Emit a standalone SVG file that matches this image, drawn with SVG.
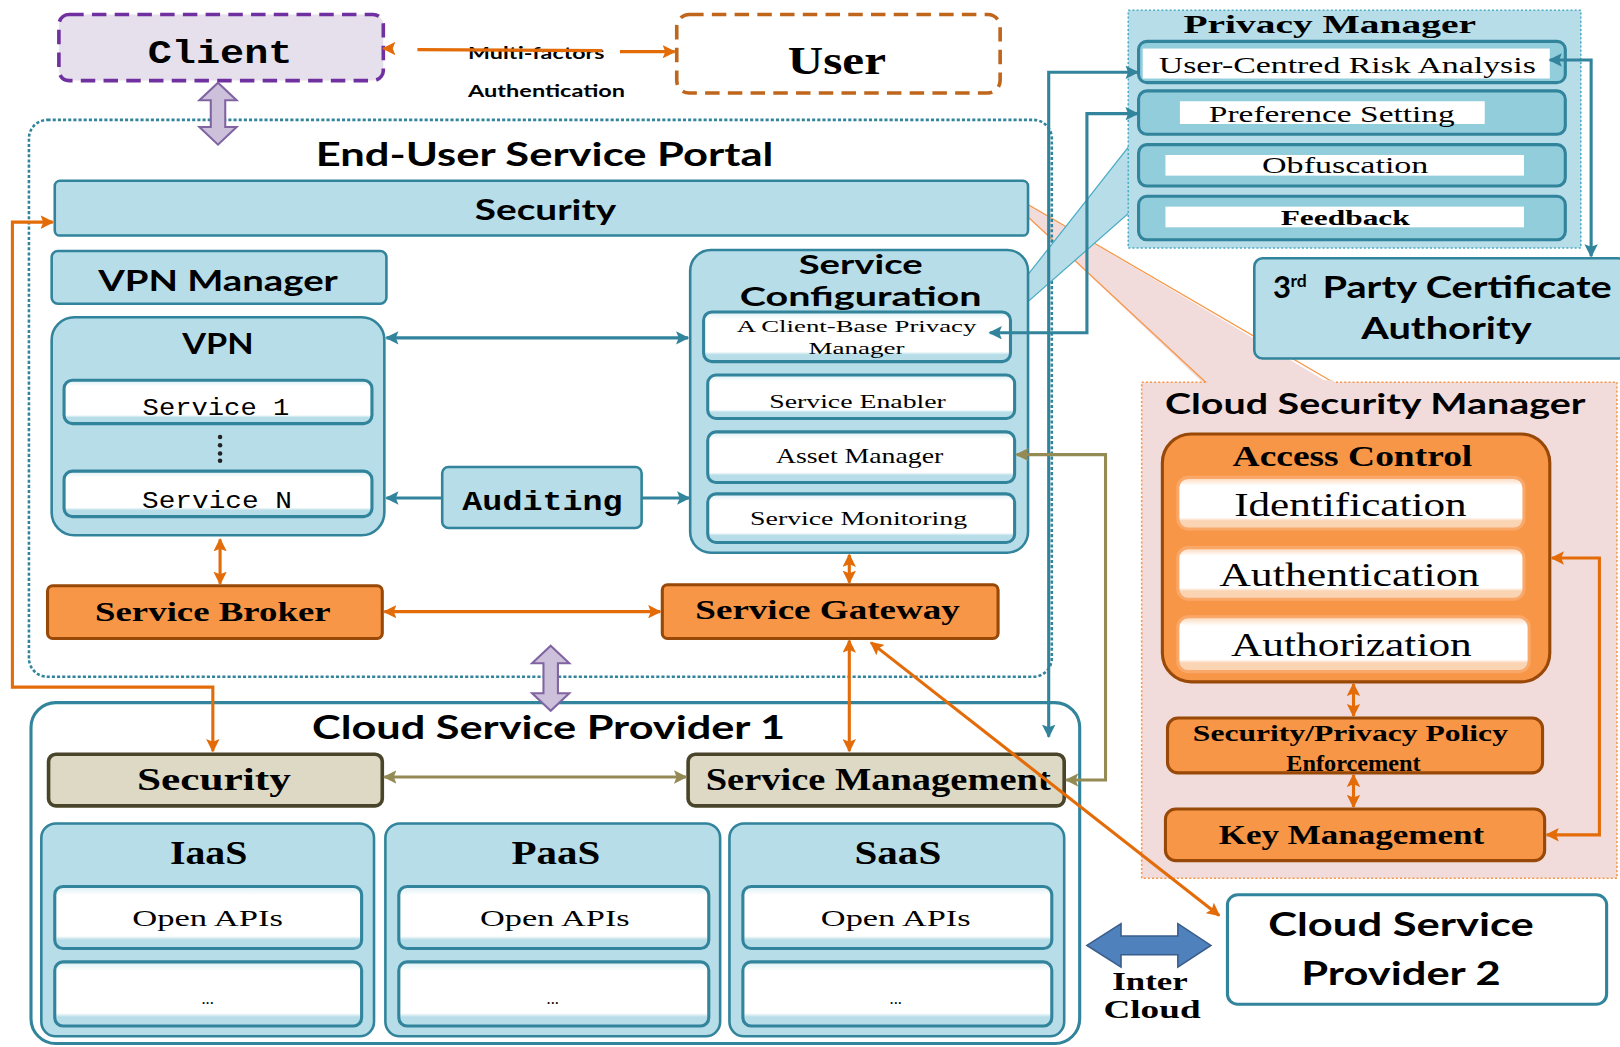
<svg xmlns="http://www.w3.org/2000/svg" width="1620" height="1047" viewBox="0 0 1620 1047">
<style>
  .sans{font-family:Lato,"Liberation Sans",sans-serif;font-weight:700}
  .serif{font-family:"Liberation Serif",serif}
  .mono{font-family:"Liberation Mono",monospace}
  .b{font-weight:700}
  text{fill:#000}
  .panel{fill:#B7DDE8;stroke:#31849B;stroke-width:2.5}
  .inner{fill:url(#wb);stroke:#31849B;stroke-width:3}
  .pitem{fill:#92CDDC;stroke:#31849B;stroke-width:3}
  .org{fill:#F79646;stroke:#984807;stroke-width:3}
  .oinner{fill:url(#ob);stroke:#F9A86A;stroke-width:3}
  .tan{fill:#DDD9C4;stroke:#4A452A;stroke-width:3.5}
  .cT{fill:none;stroke:#31849B;stroke-width:3;marker-start:url(#aT);marker-end:url(#aT)}
  .cO{fill:none;stroke:#E36C09;stroke-width:3;marker-start:url(#aO);marker-end:url(#aO)}
  .cL{fill:none;stroke:#948A54;stroke-width:3;marker-start:url(#aL);marker-end:url(#aL)}
  .blk{fill:#CCC0DA;stroke:#8064A2;stroke-width:2}
</style>
<defs>
  <linearGradient id="wb" x1="0" y1="0" x2="0" y2="1">
    <stop offset="0" stop-color="#DAEEF3"/>
    <stop offset="0.14" stop-color="#fff"/>
    <stop offset="0.8" stop-color="#fff"/>
    <stop offset="0.86" stop-color="#B7DDE8"/>
    <stop offset="1" stop-color="#B7DDE8"/>
  </linearGradient>
  <linearGradient id="ob" x1="0" y1="0" x2="0" y2="1">
    <stop offset="0" stop-color="#FBD4B4"/>
    <stop offset="0.16" stop-color="#fff"/>
    <stop offset="0.78" stop-color="#fff"/>
    <stop offset="0.84" stop-color="#FBD4B4"/>
    <stop offset="1" stop-color="#FBD4B4"/>
  </linearGradient>
  <marker id="aT" viewBox="0 0 10 10" refX="9" refY="5" markerWidth="13" markerHeight="13" markerUnits="userSpaceOnUse" orient="auto-start-reverse"><path d="M0,0 L10,5 L0,10 L2,5 z" fill="#31849B"/></marker>
  <marker id="aO" viewBox="0 0 10 10" refX="9" refY="5" markerWidth="13" markerHeight="13" markerUnits="userSpaceOnUse" orient="auto-start-reverse"><path d="M0,0 L10,5 L0,10 L2,5 z" fill="#E36C09"/></marker>
  <marker id="aL" viewBox="0 0 10 10" refX="9" refY="5" markerWidth="13" markerHeight="13" markerUnits="userSpaceOnUse" orient="auto-start-reverse"><path d="M0,0 L10,5 L0,10 L2,5 z" fill="#948A54"/></marker>
</defs>
<rect width="1620" height="1047" fill="#fff"/>
<g transform="scale(1.0332)">

<!-- callout wedges (drawn beneath the boxes they join) -->
<g id="csm-callout">
  <polygon points="995,198 1292,374 1168,374 995,210" fill="#F2DCDB"/>
  <path d="M995,198 L1292,371 M995,210 L1168,371" stroke="#F79646" stroke-width="1.2" fill="none"/>
</g>

<g id="portal">
  <rect x="28" y="116" width="990" height="539" rx="18" fill="none" stroke="#31849B" stroke-width="2.5" stroke-dasharray="3 2"/>
  <text class="sans" x="527" y="161" font-size="31" text-anchor="middle" textLength="443" lengthAdjust="spacingAndGlyphs">End-User Service Portal</text>
</g>

<g id="client">
  <rect x="57" y="14" width="314" height="64" rx="10" fill="#E5E0EC" stroke="#7030A0" stroke-width="3.5" stroke-dasharray="14 8"/>
  <text class="mono b" x="213" y="61" font-size="32" text-anchor="middle" textLength="140" lengthAdjust="spacingAndGlyphs">Client</text>
</g>

<g id="user">
  <rect x="655" y="14" width="313" height="76" rx="12" fill="#fff" stroke="#C0651C" stroke-width="3.5" stroke-dasharray="14 8"/>
  <text class="serif b" x="810" y="72" font-size="38" text-anchor="middle" textLength="95" lengthAdjust="spacingAndGlyphs">User</text>
</g>

<g id="mfa-label">
  <text class="sans" x="453" y="57" font-size="16" fill="#333" textLength="132" lengthAdjust="spacingAndGlyphs">Multi-factors</text>
  <text class="sans" x="453" y="94" font-size="17" fill="#333" textLength="152" lengthAdjust="spacingAndGlyphs">Authentication</text>
</g>

<g id="security-bar">
  <rect x="53" y="175" width="942" height="53" rx="5" class="panel"/>
  <text class="sans" x="528" y="213" font-size="28" text-anchor="middle" textLength="137" lengthAdjust="spacingAndGlyphs">Security</text>
</g>

<g id="vpn-manager">
  <rect x="50" y="243" width="324" height="51" rx="6" class="panel"/>
  <text class="sans" x="211" y="282" font-size="27" text-anchor="middle" textLength="232" lengthAdjust="spacingAndGlyphs">VPN Manager</text>
</g>

<g id="vpn">
  <rect x="50" y="307" width="322" height="211" rx="22" class="panel"/>
  <text class="sans" x="211" y="343" font-size="27" text-anchor="middle" textLength="69" lengthAdjust="spacingAndGlyphs">VPN</text>
  <rect x="62" y="368" width="298" height="42" rx="8" class="inner"/>
  <text class="mono" x="209" y="402" font-size="24" fill="#333" text-anchor="middle" textLength="142" lengthAdjust="spacingAndGlyphs">Service 1</text>
  <circle cx="213" cy="423" r="2.2" fill="#222"/>
  <circle cx="213" cy="431" r="2.2" fill="#222"/>
  <circle cx="213" cy="439" r="2.2" fill="#222"/>
  <circle cx="213" cy="446" r="2.2" fill="#222"/>
  <rect x="62" y="456" width="298" height="44" rx="8" class="inner"/>
  <text class="mono" x="210" y="492" font-size="24" fill="#333" text-anchor="middle" textLength="145" lengthAdjust="spacingAndGlyphs">Service N</text>
</g>

<g id="auditing">
  <rect x="428" y="452" width="193" height="59" rx="6" class="panel"/>
  <text class="mono b" x="525" y="494" font-size="27" text-anchor="middle" textLength="155" lengthAdjust="spacingAndGlyphs">Auditing</text>
</g>

<g id="privacy-callout">
  <polygon points="968,300 1094,140 1094,205 988,298" fill="#B7DDE8" stroke="#4BACC6" stroke-width="1.2"/>
</g>

<g id="service-configuration">
  <rect x="668" y="242" width="327" height="293" rx="20" class="panel"/>
  <text class="sans" x="833" y="265" font-size="25" text-anchor="middle" textLength="120" lengthAdjust="spacingAndGlyphs">Service</text>
  <text class="sans" x="833" y="296" font-size="25" text-anchor="middle" textLength="234" lengthAdjust="spacingAndGlyphs">Configuration</text>
  <rect x="681" y="302" width="297" height="48" rx="8" class="inner"/>
  <text class="serif" x="829" y="321" font-size="17" text-anchor="middle" textLength="232" lengthAdjust="spacingAndGlyphs">A Client-Base Privacy</text>
  <text class="serif" x="829" y="343" font-size="17" text-anchor="middle" textLength="93" lengthAdjust="spacingAndGlyphs">Manager</text>
  <rect x="685" y="363" width="297" height="42" rx="8" class="inner"/>
  <text class="serif" x="830" y="395" font-size="19" text-anchor="middle" textLength="171" lengthAdjust="spacingAndGlyphs">Service Enabler</text>
  <rect x="685" y="418" width="297" height="49" rx="8" class="inner"/>
  <text class="serif" x="832" y="448" font-size="20" text-anchor="middle" textLength="162" lengthAdjust="spacingAndGlyphs">Asset Manager</text>
  <rect x="685" y="478" width="297" height="47" rx="8" class="inner"/>
  <text class="serif" x="831" y="508" font-size="19" text-anchor="middle" textLength="210" lengthAdjust="spacingAndGlyphs">Service Monitoring</text>
</g>

<g id="service-broker">
  <rect x="46" y="567" width="324" height="51" rx="5" class="org"/>
  <text class="serif b" x="206" y="601" font-size="26" text-anchor="middle" textLength="228" lengthAdjust="spacingAndGlyphs">Service Broker</text>
</g>

<g id="service-gateway">
  <rect x="641" y="566" width="325" height="52" rx="5" class="org"/>
  <text class="serif b" x="801" y="599" font-size="26" text-anchor="middle" textLength="256" lengthAdjust="spacingAndGlyphs">Service Gateway</text>
</g>

<g id="csp1">
  <rect x="30" y="680" width="1015" height="330" rx="24" fill="#fff" stroke="#31849B" stroke-width="3"/>
  <text class="sans" x="531" y="715" font-size="31" text-anchor="middle" textLength="458" lengthAdjust="spacingAndGlyphs">Cloud Service Provider 1</text>
</g>

<g id="csp1-security">
  <rect x="47" y="730" width="323" height="50" rx="7" class="tan"/>
  <text class="serif b" x="207" y="765" font-size="30" text-anchor="middle" textLength="149" lengthAdjust="spacingAndGlyphs">Security</text>
</g>

<g id="service-management">
  <rect x="666" y="730" width="364" height="50" rx="7" class="tan"/>
  <text class="serif b" x="850" y="765" font-size="30" text-anchor="middle" textLength="334" lengthAdjust="spacingAndGlyphs">Service Management</text>
</g>

<g id="iaas">
  <rect x="40" y="797" width="322" height="206" rx="14" class="panel"/>
  <text class="serif b" x="202" y="836" font-size="32" text-anchor="middle" textLength="75" lengthAdjust="spacingAndGlyphs">IaaS</text>
  <rect x="53" y="858" width="297" height="60" rx="8" class="inner"/>
  <text class="serif" x="201" y="896" font-size="22" text-anchor="middle" textLength="146" lengthAdjust="spacingAndGlyphs">Open APIs</text>
  <rect x="53" y="931" width="297" height="62" rx="8" class="inner"/>
  <text class="serif" x="201" y="972" font-size="16" fill="#999" text-anchor="middle">...</text>
</g>

<g id="paas">
  <rect x="373" y="797" width="324" height="206" rx="14" class="panel"/>
  <text class="serif b" x="538" y="836" font-size="32" text-anchor="middle" textLength="86" lengthAdjust="spacingAndGlyphs">PaaS</text>
  <rect x="386" y="858" width="300" height="60" rx="8" class="inner"/>
  <text class="serif" x="537" y="896" font-size="22" text-anchor="middle" textLength="145" lengthAdjust="spacingAndGlyphs">Open APIs</text>
  <rect x="386" y="931" width="300" height="62" rx="8" class="inner"/>
  <text class="serif" x="535" y="972" font-size="16" fill="#999" text-anchor="middle">...</text>
</g>

<g id="saas">
  <rect x="706" y="797" width="324" height="206" rx="14" class="panel"/>
  <text class="serif b" x="869" y="836" font-size="32" text-anchor="middle" textLength="84" lengthAdjust="spacingAndGlyphs">SaaS</text>
  <rect x="719" y="858" width="299" height="60" rx="8" class="inner"/>
  <text class="serif" x="867" y="896" font-size="22" text-anchor="middle" textLength="145" lengthAdjust="spacingAndGlyphs">Open APIs</text>
  <rect x="719" y="931" width="299" height="62" rx="8" class="inner"/>
  <text class="serif" x="867" y="972" font-size="16" fill="#999" text-anchor="middle">...</text>
</g>

<g id="privacy-manager">
  <rect x="1092" y="10" width="438" height="230" fill="#B7DDE8" stroke="#4BACC6" stroke-width="1.5" stroke-dasharray="2 2"/>
  <text class="serif b" x="1287" y="32" font-size="24" text-anchor="middle" textLength="283" lengthAdjust="spacingAndGlyphs">Privacy Manager</text>
  <rect x="1102" y="40" width="413" height="40" rx="8" class="pitem"/>
  <rect x="1106" y="47" width="394" height="29" fill="#fff"/>
  <text class="serif" x="1304" y="71" font-size="22" text-anchor="middle" textLength="365" lengthAdjust="spacingAndGlyphs">User-Centred Risk Analysis</text>
  <rect x="1102" y="88" width="413" height="42" rx="8" class="pitem"/>
  <rect x="1142" y="98" width="295" height="22" fill="#fff"/>
  <text class="serif" x="1289" y="118" font-size="22" text-anchor="middle" textLength="238" lengthAdjust="spacingAndGlyphs">Preference Setting</text>
  <rect x="1102" y="140" width="413" height="40" rx="8" class="pitem"/>
  <rect x="1128" y="150" width="347" height="20" fill="#fff"/>
  <text class="serif" x="1302" y="167" font-size="22" text-anchor="middle" textLength="161" lengthAdjust="spacingAndGlyphs">Obfuscation</text>
  <rect x="1102" y="190" width="413" height="42" rx="8" class="pitem"/>
  <rect x="1128" y="200" width="347" height="20" fill="#fff"/>
  <text class="serif b" x="1302" y="218" font-size="21" text-anchor="middle" textLength="125" lengthAdjust="spacingAndGlyphs">Feedback</text>
</g>

<g id="certificate-authority">
  <rect x="1214" y="250" width="360" height="97" rx="8" class="panel"/>
  <text class="sans" x="1232" y="288" font-size="30">3</text>
  <text class="sans" x="1249" y="278" font-size="17">rd</text>
  <text class="sans" x="1280" y="288" font-size="30" textLength="280" lengthAdjust="spacingAndGlyphs">Party Certificate</text>
  <text class="sans" x="1400" y="328" font-size="30" text-anchor="middle" textLength="165" lengthAdjust="spacingAndGlyphs">Authority</text>
</g>

<g id="cloud-security-manager">
  <rect x="1105" y="370" width="460" height="480" fill="#F2DCDB" stroke="#F79646" stroke-width="1.5" stroke-dasharray="2 2"/>
  <polygon points="1170,368 1290,368 1294,376 1166,376" fill="#F2DCDB"/>
  <text class="sans" x="1331" y="401" font-size="28" text-anchor="middle" textLength="407" lengthAdjust="spacingAndGlyphs">Cloud Security Manager</text>
</g>

<g id="access-control">
  <rect x="1125" y="420" width="375" height="240" rx="28" class="org"/>
  <text class="serif b" x="1309" y="451" font-size="28" text-anchor="middle" textLength="232" lengthAdjust="spacingAndGlyphs">Access Control</text>
  <rect x="1140" y="462" width="335" height="50" rx="10" class="oinner"/>
  <text class="serif" x="1307" y="499" font-size="32" text-anchor="middle" textLength="225" lengthAdjust="spacingAndGlyphs">Identification</text>
  <rect x="1140" y="530" width="335" height="50" rx="10" class="oinner"/>
  <text class="serif" x="1306" y="567" font-size="32" text-anchor="middle" textLength="252" lengthAdjust="spacingAndGlyphs">Authentication</text>
  <rect x="1140" y="597" width="340" height="53" rx="10" class="oinner"/>
  <text class="serif" x="1308" y="635" font-size="32" text-anchor="middle" textLength="233" lengthAdjust="spacingAndGlyphs">Authorization</text>
</g>

<g id="policy-enforcement">
  <rect x="1130" y="695" width="363" height="53" rx="10" class="org"/>
  <text class="serif b" x="1307" y="717" font-size="22" text-anchor="middle" textLength="305" lengthAdjust="spacingAndGlyphs">Security/Privacy Policy</text>
  <text class="serif b" x="1310" y="746" font-size="22" text-anchor="middle" textLength="130" lengthAdjust="spacingAndGlyphs">Enforcement</text>
</g>

<g id="key-management">
  <rect x="1128" y="783" width="367" height="50" rx="10" class="org"/>
  <text class="serif b" x="1308" y="817" font-size="26" text-anchor="middle" textLength="257" lengthAdjust="spacingAndGlyphs">Key Management</text>
</g>

<g id="csp2">
  <rect x="1188" y="866" width="367" height="106" rx="10" fill="#fff" stroke="#31849B" stroke-width="3"/>
  <text class="sans" x="1356" y="906" font-size="32" text-anchor="middle" textLength="257" lengthAdjust="spacingAndGlyphs">Cloud Service</text>
  <text class="sans" x="1356" y="953" font-size="32" text-anchor="middle" textLength="193" lengthAdjust="spacingAndGlyphs">Provider 2</text>
</g>

<g id="inter-cloud">
  <polygon points="1052,915 1085,894 1085,906 1140,906 1140,894 1172,915 1140,936 1140,924 1085,924 1085,936" fill="#4F81BD" stroke="#385D8A" stroke-width="1.5"/>
  <text class="serif b" x="1113" y="958" font-size="24" text-anchor="middle" textLength="73" lengthAdjust="spacingAndGlyphs">Inter</text>
  <text class="serif b" x="1115" y="985" font-size="24" text-anchor="middle" textLength="94" lengthAdjust="spacingAndGlyphs">Cloud</text>
</g>

<g id="connectors">
  <!-- client / user authentication link -->
  <path d="M380,47 L371,47" stroke="#E36C09" stroke-width="3" marker-end="url(#aO)"/>
  <path d="M404,48 L583,49" stroke="#E36C09" stroke-width="3"/>
  <path d="M600,50 L653,50" stroke="#E36C09" stroke-width="3" marker-end="url(#aO)"/>
  <!-- hollow block arrows -->
  <polygon class="blk" points="211,80 229,97 218,97 218,123 229,123 211,140 193,123 204,123 204,97 193,97"/>
  <polygon class="blk" points="533,625 551,642 540,642 540,671 551,671 533,688 515,671 526,671 526,642 515,642"/>
  <!-- teal links -->
  <path class="cT" d="M374,327 L666,327"/>
  <path d="M428,482 L374,482" stroke="#31849B" stroke-width="3" marker-end="url(#aT)"/>
  <path d="M621,482 L667,482" stroke="#31849B" stroke-width="3" marker-end="url(#aT)"/>
  <path class="cT" d="M1101,70 L1015,70 L1015,713"/>
  <path class="cT" d="M1101,110 L1052,110 L1052,322 L958,322"/>
  <path class="cT" d="M1500,58 L1540,58 L1540,248"/>
  <!-- orange links -->
  <path class="cO" d="M213,522 L213,565"/>
  <path class="cO" d="M372,592 L639,592"/>
  <path class="cO" d="M822,537 L822,564"/>
  <path class="cO" d="M822,620 L822,727"/>
  <path class="cO" d="M843,622 L1180,886"/>
  <path class="cO" d="M51,215 L12,215 L12,665 L206,665 L206,727"/>
  <path class="cO" d="M1502,540 L1548,540 L1548,808 L1497,808"/>
  <path class="cO" d="M1310,662 L1310,693"/>
  <path class="cO" d="M1310,750 L1310,781"/>
  <!-- olive links -->
  <path class="cL" d="M372,752 L664,752"/>
  <path class="cL" d="M984,440 L1070,440 L1070,755 L1032,755"/>
</g>
</g>
</svg>
